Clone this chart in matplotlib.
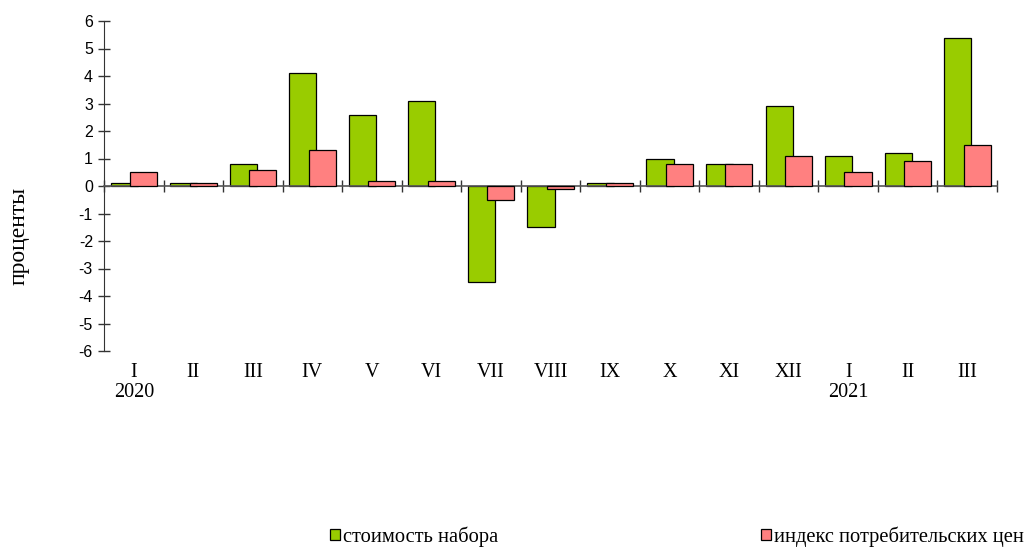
import matplotlib.pyplot as plt
import numpy as np
from matplotlib.patches import Patch
import matplotlib.transforms as mtransforms

months = ['I', 'II', 'III', 'IV', 'V', 'VI', 'VII', 'VIII', 'IX', 'X', 'XI', 'XII', 'I', 'II', 'III']
years = {0: '2020', 12: '2021'}
basket = [0.1, 0.1, 0.8, 4.1, 2.6, 3.1, -3.5, -1.5, 0.1, 1.0, 0.8, 2.9, 1.1, 1.2, 5.4]
cpi = [0.5, 0.1, 0.6, 1.3, 0.2, 0.2, -0.5, -0.1, 0.1, 0.8, 0.8, 1.1, 0.5, 0.9, 1.5]

green = '#99CC00'
red = '#FF8080'
serif = ['Liberation Serif', 'DejaVu Serif']
sans = ['Liberation Sans', 'DejaVu Sans']

fig = plt.figure(figsize=(10.35, 5.47), dpi=100)
ax = fig.add_axes([104 / 1035, 1 - 351 / 547, (997 - 104) / 1035, 330 / 547])

x = np.arange(len(months))
w = 0.455
ax.bar(x - 0.16, basket, width=w, color=green, edgecolor='black', linewidth=0.9, zorder=2)
ax.bar(x + 0.165, cpi, width=w, color=red, edgecolor='black', linewidth=0.9, zorder=3)

ax.set_xlim(-0.5, len(months) - 0.5)
ax.set_ylim(-6, 6)
ax.set_yticks(range(-6, 7))
ax.set_yticklabels([str(v) for v in range(-6, 7)], family=sans, fontsize=11.5)
ax.tick_params(axis='y', direction='inout', length=8, color='#333333', width=1, pad=4)

for s in ['top', 'right']:
    ax.spines[s].set_visible(False)
ax.spines['left'].set_color('#333333')
ax.spines['bottom'].set_position(('data', 0))
ax.spines['bottom'].set_color('#555555')
ax.spines['bottom'].set_linewidth(1.2)
ax.set_xticks(np.arange(-0.5, len(months)), [''] * (len(months) + 1))
ax.tick_params(axis='x', direction='inout', length=9, color='#333333', width=1)

trans = mtransforms.blended_transform_factory(ax.transData, ax.transAxes)
for i, m in enumerate(months):
    ax.text(i, -0.064, m, transform=trans, ha='center', va='center', family=serif, fontsize=14.5)
for i, yr in years.items():
    ax.text(i, -0.127, yr, transform=trans, ha='center', va='center', family=serif, fontsize=14.5)

fig.text(19 / 1035, 1 - 236 / 547, 'проценты', rotation=90, ha='center', va='center',
         family=serif, fontsize=17)

leg_kw = dict(loc='center left', frameon=False, prop={'family': serif, 'size': 14.8},
              handlelength=0.5, handleheight=0.45, handletextpad=0.15, borderpad=0, borderaxespad=0)
fig.legend(handles=[Patch(facecolor=green, edgecolor='black', linewidth=0.9, label='стоимость набора')],
           bbox_to_anchor=(330 / 1035, 1 - 537 / 547), **leg_kw)
fig.legend(handles=[Patch(facecolor=red, edgecolor='black', linewidth=0.9, label='индекс потребительских цен')],
           bbox_to_anchor=(761 / 1035, 1 - 537 / 547), **leg_kw)

fig.savefig('out.png', dpi=100)
